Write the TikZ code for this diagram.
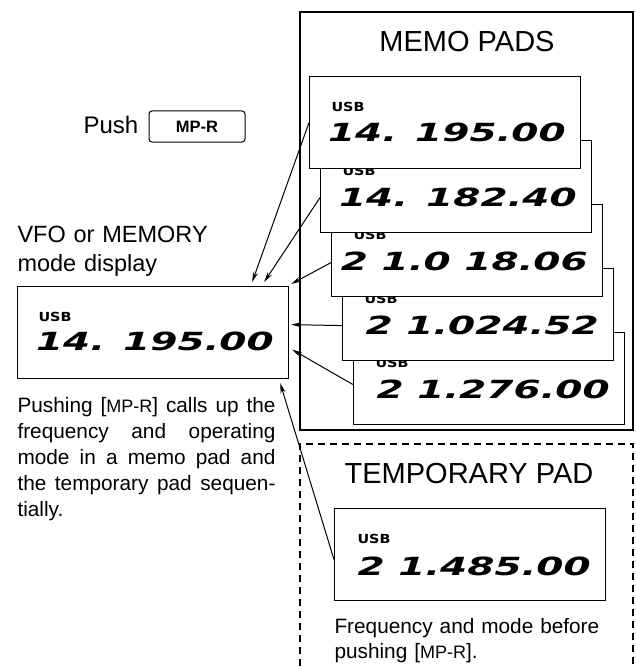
\documentclass[tikz,border=0pt]{standalone}
\usepackage{graphicx}
\usepackage{fontspec}
\setmainfont{Liberation Sans}
\newfontfamily\lcdfont{DejaVu Sans}
\usetikzlibrary{arrows.meta}

\newcommand{\mpkey}{{\fontsize{18}{20}\selectfont MP-R}}
\newcommand{\lcd}[1]{\scalebox{1.56}[1]{#1}}
\newcommand{\usbtxt}{\scalebox{1.15}[1]{USB}}

\begin{document}
\begin{tikzpicture}[x=1pt, y=-1pt, line width=1pt,
  pad/.style={draw, fill=white, line width=1.2pt, minimum width=271pt,
    minimum height=92pt, inner sep=0pt, anchor=north west},
  usb/.style={anchor=base west, inner sep=0pt,
    font=\lcdfont\bfseries\fontsize{12.5}{12}\selectfont},
  freq/.style={anchor=base east, inner sep=0pt,
    font=\lcdfont\bfseries\itshape\fontsize{25}{25}\selectfont},
  title/.style={anchor=base, inner sep=0pt, font=\fontsize{29}{30}\selectfont},
  key/.style={draw, rounded corners=3pt, minimum width=96pt, minimum height=31pt,
    inner sep=0pt, font=\bfseries\fontsize{16.5}{17}\selectfont},
  call/.style={-{Stealth[length=10pt, width=5pt]}},
  tempbox/.style={line width=1.1pt, dash pattern=on 7pt off 5pt}]
  \useasboundingbox (0,0) rectangle (635,666);

  \draw[line width=1.2pt] (300,12) rectangle (633,430);
  \node[title] (memo) at (467,52) {MEMO PADS};

  \foreach \i/\fq in {5/{2 1.276.00}, 4/{2 1.024.52}, 3/{2 1.0 18.06},
      2/{14. 182.40}, 1/{14. 195.00}} {
    \node[pad] (m\i) at ({309+11*(\i-1)}, {76+64*(\i-1)}) {};
    \node[usb] at ([shift={(22,35)}]m\i.north west) {\usbtxt};
    \node[freq] at ([shift={(-15,66)}]m\i.north east) {\lcd{\fq}};
  }

  \node[anchor=base west, inner sep=0pt, font=\fontsize{24}{24}\selectfont]
    (push) at (83,134) {Push};
  \node[key] (mpr) at (197,126.5) {MP-R};

  \node[anchor=base west, inner sep=0pt, text width=260pt, align=left,
    font=\fontsize{23.5}{29}\selectfont] (vfolabel) at (17,242)
    {VFO or MEMORY\\mode display};

  \node[pad] (vfo) at (17,286) {};
  \node[usb] at ([shift={(21,35)}]vfo.north west) {\usbtxt};
  \node[freq] at ([shift={(-15,64)}]vfo.north east) {\lcd{14. 195.00}};

  \node[anchor=base west, inner sep=0pt, text width=258pt, align=justify,
    font=\fontsize{20.8}{26}\selectfont] (note) at (17,412)
    {Pushing [\mpkey] calls up the\linebreak frequency and operating\linebreak
     mode in a memo pad and\linebreak the temporary pad sequen-\linebreak tially.};

  \draw[tempbox] (300,666) -- (300,444) -- (633,444) -- (633,666);
  \node[title] (temp) at (469,483) {TEMPORARY PAD};
  \node[pad] (tmp) at (334,508) {};
  \node[usb] at ([shift={(23,35)}]tmp.north west) {\usbtxt};
  \node[freq] at ([shift={(-15,67)}]tmp.north east) {\lcd{2 1.485.00}};
  \node[anchor=base west, inner sep=0pt, text width=280pt, align=left,
    font=\fontsize{20.8}{25}\selectfont] (before) at (334,633)
    {Frequency and mode before\\pushing [\mpkey].};

  \draw[call] (m1.west) -- ([shift={(-37,-4)}]vfo.north east);
  \draw[call] ([shift={(0,11)}]m2.west) -- ([shift={(-25,-4)}]vfo.north east);
  \draw[call] ([shift={(0,12)}]m3.west) -- ([shift={(2,-2)}]vfo.north east);
  \draw[call] ([shift={(0,11)}]m4.west) -- ([shift={(2,-8)}]vfo.east);
  \draw[call] ([shift={(0,6)}]m5.west) -- ([shift={(3,17)}]vfo.east);
  \draw[call] ([shift={(0,5)}]tmp.west) -- ([shift={(-9,4)}]vfo.south east);
\end{tikzpicture}
\end{document}
